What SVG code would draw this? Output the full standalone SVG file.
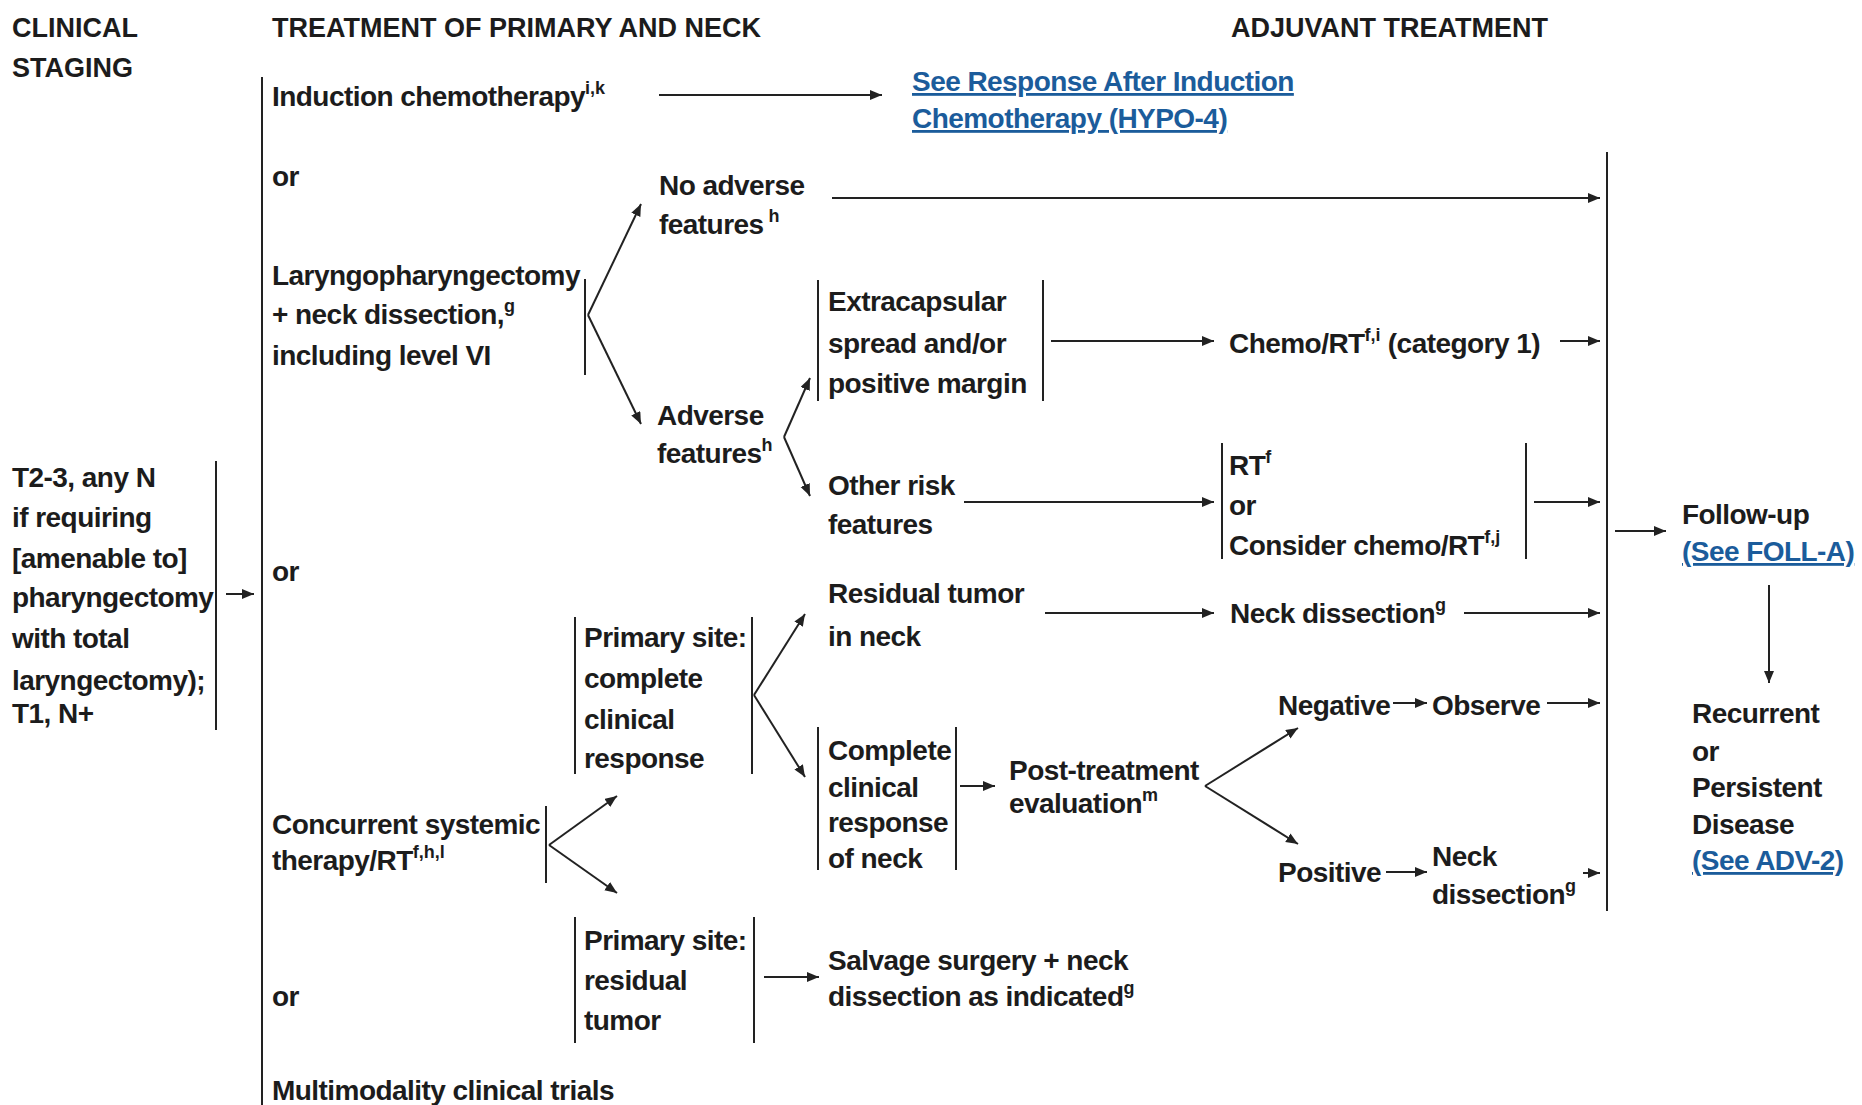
<svg xmlns="http://www.w3.org/2000/svg" width="1862" height="1105" viewBox="0 0 1862 1105">
<style>
text{font-family:"Liberation Sans",Arial,sans-serif;font-weight:bold;font-size:28px;fill:#1c1c1c;letter-spacing:-0.55px}
.h{font-size:27px;letter-spacing:0}
.sup{font-size:18px;letter-spacing:0}
.lnk{fill:#1b5c9b;text-decoration:underline}
.ln{stroke:#222;stroke-width:2;fill:none}
.ar{stroke:#222;stroke-width:2;fill:none;marker-end:url(#ah)}
</style>
<defs>
<marker id="ah" markerUnits="userSpaceOnUse" markerWidth="13" markerHeight="11" refX="12" refY="5" orient="auto">
<path d="M0,0 L12,5 L0,10 z" fill="#222"/>
</marker>
</defs>
<rect width="1862" height="1105" fill="#fff"/>

<g id="headers">
<text class="h" x="12" y="37">CLINICAL</text>
<text class="h" x="12" y="77">STAGING</text>
<text class="h" x="272" y="37">TREATMENT OF PRIMARY AND NECK</text>
<text class="h" x="1231" y="37">ADJUVANT TREATMENT</text>
</g>

<g id="staging">
<text x="12" y="487">T2-3, any N</text>
<text x="12" y="527">if requiring</text>
<text x="12" y="568">[amenable to]</text>
<text x="12" y="607">pharyngectomy</text>
<text x="12" y="648">with total</text>
<text x="12" y="690">laryngectomy);</text>
<text x="12" y="723">T1, N+</text>
</g>

<g id="induction"><text x="272" y="106">Induction chemotherapy<tspan class="sup" dy="-12">i,k</tspan></text></g>
<g id="hypo4">
<text class="lnk" x="912" y="91">See Response After Induction</text>
<text class="lnk" x="912" y="128">Chemotherapy (HYPO-4)</text>
</g>
<g id="or1"><text x="272" y="186">or</text></g>
<g id="laryngo">
<text x="272" y="285">Laryngopharyngectomy</text>
<text x="272" y="324">+ neck dissection,<tspan class="sup" dy="-12">g</tspan></text>
<text x="272" y="365">including level VI</text>
</g>
<g id="noadverse">
<text x="659" y="195">No adverse</text>
<text x="659" y="234">features<tspan class="sup" dy="-12"> h</tspan></text>
</g>
<g id="adverse">
<text x="657" y="425">Adverse</text>
<text x="657" y="463">features<tspan class="sup" dy="-12">h</tspan></text>
</g>
<g id="extracap">
<text x="828" y="311">Extracapsular</text>
<text x="828" y="353">spread and/or</text>
<text x="828" y="393">positive margin</text>
</g>
<g id="chemort1"><text x="1229" y="353">Chemo/RT<tspan class="sup" dy="-12">f,i</tspan><tspan dy="12"> (category 1)</tspan></text></g>
<g id="otherrisk">
<text x="828" y="495">Other risk</text>
<text x="828" y="534">features</text>
</g>
<g id="rtor">
<text x="1229" y="475">RT<tspan class="sup" dy="-12">f</tspan></text>
<text x="1229" y="515">or</text>
<text x="1229" y="555">Consider chemo/RT<tspan class="sup" dy="-12">f,j</tspan></text>
</g>
<g id="or2"><text x="272" y="581">or</text></g>
<g id="followup">
<text x="1682" y="524">Follow-up</text>
<text class="lnk" x="1682" y="561">(See FOLL-A)</text>
</g>
<g id="recurrent">
<text x="1692" y="723">Recurrent</text>
<text x="1692" y="761">or</text>
<text x="1692" y="797">Persistent</text>
<text x="1692" y="834">Disease</text>
<text class="lnk" x="1692" y="870">(See ADV-2)</text>
</g>
<g id="residualneck">
<text x="828" y="603">Residual tumor</text>
<text x="828" y="646">in neck</text>
</g>
<g id="neckdiss1"><text x="1230" y="623">Neck dissection<tspan class="sup" dy="-12">g</tspan></text></g>
<g id="primcomplete">
<text x="584" y="647">Primary site:</text>
<text x="584" y="688">complete</text>
<text x="584" y="729">clinical</text>
<text x="584" y="768">response</text>
</g>
<g id="completeneck">
<text x="828" y="760">Complete</text>
<text x="828" y="797">clinical</text>
<text x="828" y="832">response</text>
<text x="828" y="868">of neck</text>
</g>
<g id="posteval">
<text x="1009" y="780">Post-treatment</text>
<text x="1009" y="813">evaluation<tspan class="sup" dy="-12">m</tspan></text>
</g>
<g id="negative"><text x="1278" y="715">Negative</text></g>
<g id="observe"><text x="1432" y="715">Observe</text></g>
<g id="positive"><text x="1278" y="882">Positive</text></g>
<g id="neckdiss2">
<text x="1432" y="866">Neck</text>
<text x="1432" y="904">dissection<tspan class="sup" dy="-12">g</tspan></text>
</g>
<g id="concurrent">
<text x="272" y="834">Concurrent systemic</text>
<text x="272" y="870">therapy/RT<tspan class="sup" dy="-12">f,h,l</tspan></text>
</g>
<g id="primresidual">
<text x="584" y="950">Primary site:</text>
<text x="584" y="990">residual</text>
<text x="584" y="1030">tumor</text>
</g>
<g id="salvage">
<text x="828" y="970">Salvage surgery + neck</text>
<text x="828" y="1006">dissection as indicated<tspan class="sup" dy="-12">g</tspan></text>
</g>
<g id="or3"><text x="272" y="1006">or</text></g>
<g id="trials"><text x="272" y="1100">Multimodality clinical trials</text></g>

<g id="connectors">
<line class="ln" x1="262" y1="77" x2="262" y2="1105"/>
<line class="ln" x1="216" y1="461" x2="216" y2="730"/>
<line class="ln" x1="585" y1="279" x2="585" y2="375"/>
<line class="ln" x1="818" y1="280" x2="818" y2="401"/>
<line class="ln" x1="1043" y1="280" x2="1043" y2="401"/>
<line class="ln" x1="1222" y1="443" x2="1222" y2="559"/>
<line class="ln" x1="1526" y1="443" x2="1526" y2="559"/>
<line class="ln" x1="1607" y1="152" x2="1607" y2="911"/>
<line class="ln" x1="575" y1="617" x2="575" y2="774"/>
<line class="ln" x1="752" y1="617" x2="752" y2="774"/>
<line class="ln" x1="818" y1="727" x2="818" y2="870"/>
<line class="ln" x1="956" y1="727" x2="956" y2="870"/>
<line class="ln" x1="546" y1="806" x2="546" y2="883"/>
<line class="ln" x1="575" y1="917" x2="575" y2="1043"/>
<line class="ln" x1="754" y1="917" x2="754" y2="1043"/>
<line class="ar" x1="226" y1="594" x2="254" y2="594"/>
<line class="ar" x1="659" y1="95" x2="882" y2="95"/>
<line class="ar" x1="832" y1="198" x2="1600" y2="198"/>
<line class="ar" x1="588" y1="315" x2="641" y2="204"/>
<line class="ar" x1="588" y1="315" x2="641" y2="424"/>
<line class="ar" x1="784" y1="437" x2="810" y2="378"/>
<line class="ar" x1="784" y1="437" x2="810" y2="496"/>
<line class="ar" x1="1051" y1="341" x2="1214" y2="341"/>
<line class="ar" x1="1560" y1="341" x2="1600" y2="341"/>
<line class="ar" x1="964" y1="502" x2="1214" y2="502"/>
<line class="ar" x1="1534" y1="502" x2="1600" y2="502"/>
<line class="ar" x1="1615" y1="531" x2="1666" y2="531"/>
<line class="ar" x1="1769" y1="585" x2="1769" y2="683"/>
<line class="ar" x1="1045" y1="613" x2="1214" y2="613"/>
<line class="ar" x1="1464" y1="613" x2="1600" y2="613"/>
<line class="ar" x1="754" y1="695" x2="805" y2="614"/>
<line class="ar" x1="754" y1="695" x2="805" y2="777"/>
<line class="ar" x1="960" y1="786" x2="995" y2="786"/>
<line class="ar" x1="1205" y1="786" x2="1298" y2="728"/>
<line class="ar" x1="1205" y1="786" x2="1298" y2="844"/>
<line class="ar" x1="1393" y1="703" x2="1427" y2="703"/>
<line class="ar" x1="1547" y1="703" x2="1600" y2="703"/>
<line class="ar" x1="1386" y1="872" x2="1427" y2="872"/>
<line class="ar" x1="1583" y1="873" x2="1600" y2="873"/>
<line class="ar" x1="549" y1="845" x2="617" y2="796"/>
<line class="ar" x1="549" y1="845" x2="617" y2="893"/>
<line class="ar" x1="764" y1="977" x2="819" y2="977"/>
</g>
</svg>
